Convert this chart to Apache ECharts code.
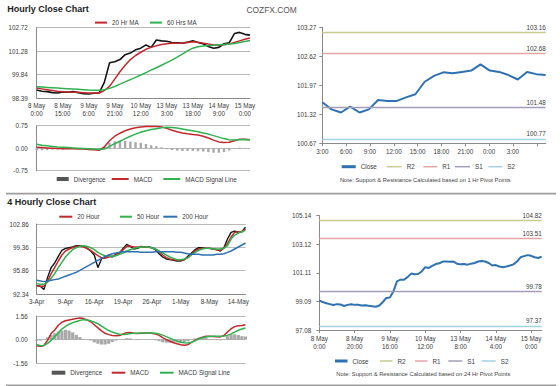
<!DOCTYPE html>
<html><head><meta charset="utf-8">
<script src="https://cdn.jsdelivr.net/npm/echarts@6/dist/echarts.min.js"></script>
<style>html,body{margin:0;padding:0;background:#fff}#c{width:560px;height:386px}</style>
</head><body><div id="c"></div>
<script>
// ---------- Hourly close chart (3-hour steps) ----------
const hrLabels = ['8 May\n0:00','8 May\n15:00','9 May\n6:00','9 May\n21:00','10 May\n12:00','13 May\n3:00','13 May\n18:00','14 May\n9:00','15 May\n0:00'];
const hrYTicks = ['98.39','99.84','101.28','102.72'];
const hrClose = [98.88,98.80,98.78,98.72,98.70,98.76,98.74,98.78,98.72,98.66,98.64,98.68,98.70,99.35,100.55,100.62,100.75,101.05,101.15,101.35,101.45,101.65,101.50,101.95,101.90,101.88,101.80,101.78,101.75,101.82,101.90,101.80,101.72,101.55,101.45,101.50,101.72,101.78,102.35,102.42,102.30,102.25];
const hrMA20 = [99.00,98.95,98.90,98.85,98.80,98.78,98.76,98.75,98.74,98.72,98.70,98.69,98.70,98.85,99.10,99.55,100.00,100.40,100.75,101.00,101.20,101.38,101.50,101.60,101.68,101.72,101.75,101.76,101.76,101.80,101.85,101.82,101.76,101.70,101.65,101.64,101.66,101.70,101.80,101.90,102.00,102.08];
const hrMA60 = [99.08,99.06,99.04,99.02,99.00,98.98,98.96,98.94,98.92,98.90,98.88,98.87,98.86,98.90,98.98,99.10,99.24,99.38,99.52,99.66,99.80,99.95,100.10,100.25,100.40,100.56,100.72,100.90,101.08,101.28,101.45,101.54,101.58,101.61,101.63,101.66,101.68,101.70,101.74,101.80,101.86,101.92];
const hrMacdTicks = ['-0.75','0.00','0.75'];
const hrMacd = [0.03,0.02,0.01,0.00,-0.01,-0.02,-0.02,-0.02,-0.03,-0.03,-0.04,-0.05,-0.07,0.04,0.25,0.40,0.50,0.58,0.64,0.68,0.71,0.72,0.72,0.72,0.71,0.66,0.60,0.55,0.51,0.48,0.46,0.44,0.40,0.34,0.27,0.21,0.19,0.20,0.25,0.30,0.30,0.28];
const hrSignal = [0.13,0.10,0.08,0.06,0.04,0.03,0.02,0.01,0.00,-0.01,-0.02,-0.03,-0.04,-0.03,0.06,0.15,0.23,0.32,0.40,0.47,0.53,0.58,0.62,0.65,0.68,0.70,0.69,0.67,0.64,0.61,0.58,0.55,0.51,0.47,0.42,0.37,0.32,0.28,0.27,0.28,0.29,0.28];
const hrDiv = [-0.08,-0.07,-0.06,-0.05,-0.04,-0.04,-0.03,-0.03,-0.03,-0.02,-0.02,-0.02,-0.03,0.05,0.18,0.23,0.25,0.24,0.22,0.20,0.18,0.14,0.10,0.07,0.03,-0.03,-0.06,-0.08,-0.09,-0.09,-0.09,-0.10,-0.11,-0.13,-0.15,-0.15,-0.13,-0.08,-0.02,0.02,0.01,0.00];

// ---------- 1 Hr pivot chart ----------
const pv1Times = ['3:00','6:00','9:00','12:00','15:00','18:00','21:00','0:00','3:00'];
const pv1YTicks = ['100.67','101.32','101.97','102.62','103.27'];
const pv1Close = [101.59,101.43,101.36,101.49,101.36,101.43,101.64,101.62,101.62,101.70,101.77,102.05,102.18,102.26,102.24,102.27,102.30,102.44,102.30,102.27,102.20,102.10,102.27,102.22,102.20];
const pvNames = ['R2','R1','S1','S2'];
const pv1Levels = [103.16,102.68,101.48,100.77];

// ---------- 4 Hourly close chart ----------
const h4Labels = ['3-Apr','9-Apr','16-Apr','19-Apr','26-Apr','1-May','8-May','14-May'];
const h4YTicks = ['92.34','95.86','99.36','102.86'];
const h4Close = [93.6,93.5,93.0,94.8,96.3,97.0,98.0,98.9,99.2,99.3,99.4,99.6,99.6,99.5,99.2,98.8,98.2,96.3,97.6,97.9,98.1,97.9,98.3,98.5,99.2,99.8,99.5,99.1,99.2,99.5,99.4,99.4,99.3,99.0,98.4,97.9,97.6,97.5,97.4,97.3,97.3,97.5,98.0,98.5,99.0,99.3,99.3,99.2,99.2,99.1,99.0,98.8,99.3,100.6,101.6,101.8,101.6,101.7,102.4];
const h4MA20 = [93.6,93.5,93.5,94.2,95.4,96.3,97.3,98.2,98.8,99.1,99.3,99.5,99.5,99.4,99.2,98.9,98.5,98.1,97.8,97.7,97.9,98.0,98.2,98.5,99.0,99.5,99.5,99.4,99.4,99.4,99.4,99.4,99.3,99.1,98.7,98.2,97.8,97.6,97.5,97.4,97.4,97.5,97.8,98.3,98.8,99.1,99.2,99.2,99.2,99.1,99.0,98.9,99.2,99.9,100.9,101.6,101.7,101.7,102.1];
const h4MA50 = [93.9,93.8,93.8,94.1,94.7,95.4,96.3,97.1,97.9,98.5,99.0,99.3,99.5,99.6,99.5,99.3,99.0,98.6,98.3,98.1,98.0,98.0,98.1,98.3,98.5,98.8,99.0,99.2,99.3,99.4,99.4,99.4,99.3,99.1,98.8,98.5,98.2,97.9,97.7,97.5,97.5,97.6,97.8,98.2,98.6,98.9,99.1,99.2,99.2,99.1,99.1,99.1,99.2,99.6,100.6,101.2,101.5,101.7,101.9];
const h4MA200 = [94.4,94.3,94.2,94.3,94.4,94.5,94.6,94.8,95.0,95.2,95.4,95.6,95.9,96.2,96.5,96.8,97.1,97.4,97.7,98.0,98.2,98.4,98.5,98.6,98.7,98.7,98.7,98.7,98.7,98.6,98.6,98.6,98.6,98.7,98.7,98.7,98.7,98.7,98.7,98.6,98.6,98.5,98.4,98.3,98.3,98.3,98.2,98.2,98.2,98.2,98.3,98.3,98.4,98.6,98.8,99.1,99.4,99.7,100.0];
const h4MacdTicks = ['-1.56','0.00','1.56'];
const h4Macd = [-0.40,-0.44,-0.38,-0.05,0.40,0.64,0.95,1.15,1.25,1.30,1.35,1.39,1.43,1.39,1.30,1.18,0.98,0.78,0.58,0.42,0.33,0.27,0.26,0.27,0.38,0.45,0.48,0.42,0.40,0.43,0.44,0.44,0.42,0.38,0.28,0.13,0.00,-0.11,-0.20,-0.27,-0.33,-0.37,-0.33,-0.18,-0.05,0.08,0.16,0.22,0.22,0.21,0.19,0.18,0.27,0.50,0.72,0.86,0.92,0.93,0.98];
const h4Signal = [-0.33,-0.38,-0.40,-0.25,-0.05,0.20,0.45,0.70,0.88,1.02,1.12,1.20,1.26,1.32,1.30,1.24,1.16,1.05,0.90,0.74,0.60,0.50,0.42,0.35,0.34,0.36,0.40,0.42,0.43,0.44,0.44,0.44,0.44,0.42,0.38,0.30,0.20,0.10,0.00,-0.10,-0.17,-0.21,-0.22,-0.17,-0.08,0.04,0.12,0.18,0.21,0.22,0.22,0.22,0.24,0.28,0.38,0.50,0.62,0.70,0.77];
const h4Div = [-0.07,-0.06,0.02,0.15,0.30,0.42,0.52,0.60,0.65,0.60,0.48,0.32,0.17,0.05,-0.02,-0.06,-0.18,-0.27,-0.32,-0.32,-0.27,-0.15,-0.06,0.00,0.04,0.09,0.08,0.00,-0.03,-0.01,0.00,0.00,-0.02,-0.04,-0.10,-0.17,-0.20,-0.21,-0.20,-0.17,-0.16,-0.16,-0.11,-0.01,0.08,0.12,0.14,0.12,0.04,-0.01,-0.03,-0.04,0.03,0.22,0.34,0.36,0.30,0.23,0.21];

// ---------- 24 Hr pivot chart (2-hour steps) ----------
const pv24Labels = ['8 May\n0:00','8 May\n20:00','9 May\n16:00','10 May\n12:00','13 May\n8:00','14 May\n4:00','15 May\n0:00'];
const pv24YTicks = ['97.08','99.09','101.11','103.12','105.14'];
const pv24Close = [99.15,99.05,98.96,98.90,98.84,98.90,98.88,98.77,98.85,98.90,98.85,98.86,98.80,98.82,98.78,98.75,98.72,98.80,99.05,99.34,99.36,99.80,100.50,100.62,100.62,100.80,101.05,101.00,101.02,101.20,101.50,101.45,101.60,101.72,101.78,101.90,101.90,101.88,101.90,101.75,101.70,101.72,101.68,101.75,101.80,101.90,101.94,101.90,101.80,101.62,101.65,101.55,101.50,101.55,101.62,101.70,101.90,102.20,102.28,102.35,102.30,102.20,102.15,102.25];
const pv24Levels = [104.82,103.51,99.78,97.37];

// ---------- styling ----------
const FONT = 'Liberation Sans';
const AX = '#8a8a8a';
const TXT = '#3c3c3c';
const GRIDC = '#b9b9b9';
const FS = 6.3;
const RED = '#c3282d', GREEN = '#2fb350', BLUE = '#2f72b3', BLACK = '#141414', DIVC = '#a9a9a9';
const PVC = ['#c6cc8f','#e7a4a4','#a59cba','#a2d3e2'];

function yAxisFrom(grid, ticks, opts) {
  const nums = ticks.map(Number);
  const min = nums[0], max = nums[nums.length - 1];
  const interval = (max - min) / (nums.length - 1);
  return {
    type: 'value', gridIndex: grid, min: min, max: max, interval: interval,
    axisLine: {show: true, lineStyle: {color: AX, width: 1}},
    axisTick: {show: !!opts.tick, length: 3, lineStyle: {color: AX}},
    splitLine: {show: !!opts.split, lineStyle: {color: GRIDC, width: 1}},
    axisLabel: {fontSize: FS, color: TXT, fontFamily: FONT, margin: opts.margin,
      formatter: function (v) { const k = Math.round((v - min) / interval); return ticks[k] !== undefined ? ticks[k] : ''; }}
  };
}
function catAxis(grid, n, labels, every, show, margin, tick) {
  const cats = Array.from({length: n}, function (_, i) { return (i % every === 0 && labels[i / every] !== undefined) ? labels[i / every] : ''; });
  return {
    type: 'category', gridIndex: grid, data: cats, boundaryGap: false,
    axisLine: {show: show, onZero: false, lineStyle: {color: AX}},
    axisTick: {show: show && tick, interval: every - 1, length: 3, lineStyle: {color: AX}},
    axisLabel: {show: show, interval: every - 1, fontSize: FS, color: TXT, fontFamily: FONT, lineHeight: 7.8, margin: margin},
    splitLine: {show: false}
  };
}
function lineS(name, data, color, width, xi, yi) {
  return {name: name, type: 'line', xAxisIndex: xi, yAxisIndex: yi, data: data, symbol: 'none',
    lineStyle: {color: color, width: width}, itemStyle: {color: color}, z: 3};
}
function barS(name, data, xi, yi, w) {
  return {name: name, type: 'bar', xAxisIndex: xi, yAxisIndex: yi, data: data, barWidth: w,
    itemStyle: {color: DIVC}, z: 2};
}
function pivotS(name, value, color, xi, yi) {
  return {name: name, type: 'line', xAxisIndex: xi, yAxisIndex: yi, data: [], symbol: 'none',
    itemStyle: {color: color}, lineStyle: {color: color},
    markLine: {symbol: ['none', 'none'], silent: true, animation: false,
      lineStyle: {color: color, width: 1.3, type: 'solid'},
      label: {show: true, position: 'insideEndTop', distance: [0, 2], formatter: value.toFixed(2),
        fontSize: FS, color: TXT, fontFamily: FONT},
      data: [{yAxis: value}]}};
}
// x: icon start, w: icon width in the reference (text follows ECharts' fixed 5px gap)
function leg(name, x, cy, w, h, color) {
  return {data: [{name: name, itemStyle: {color: color, borderWidth: 0}}],
    left: x, top: cy - 4, padding: 0, itemWidth: w - 3, itemHeight: h, icon: 'rect',
    itemStyle: {borderWidth: 0}, selectedMode: false,
    textStyle: {fontSize: FS, color: TXT, fontFamily: FONT, lineHeight: 8}};
}

const pv1Pairs = pv1Close.map(function (v, i) { return [i, v]; });
const PV1STEP = 2.56;

const series = [
  lineS('Hourly Price', hrClose, BLACK, 1.6, 0, 0),
  lineS('20 Hr MA', hrMA20, RED, 1.5, 0, 0),
  lineS('60 Hrs MA', hrMA60, GREEN, 1.5, 0, 0),
  barS('Divergence', hrDiv, 1, 1, 2.4),
  lineS('MACD', hrMacd, RED, 1.5, 1, 1),
  lineS('MACD Signal Line', hrSignal, GREEN, 1.5, 1, 1),
  lineS('Close', pv1Pairs, BLUE, 2, 2, 2)
];
pvNames.forEach(function (n, k) { series.push(pivotS(n, pv1Levels[k], PVC[k], 2, 2)); });
series.push(
  lineS('4H Price', h4Close, BLACK, 1.4, 3, 3),
  lineS('20 Hour', h4MA20, RED, 1.5, 3, 3),
  lineS('50 Hour', h4MA50, GREEN, 1.5, 3, 3),
  lineS('200 Hour', h4MA200, BLUE, 1.5, 3, 3),
  barS('Divergence', h4Div, 4, 4, 3.2),
  lineS('MACD', h4Macd, RED, 1.5, 4, 4),
  lineS('MACD Signal Line', h4Signal, GREEN, 1.5, 4, 4),
  lineS('Close', pv24Close, BLUE, 2, 5, 5)
);
pvNames.forEach(function (n, k) { series.push(pivotS(n, pv24Levels[k], PVC[k], 5, 5)); });

const option = {
  animation: false,
  backgroundColor: '#ffffff',
  textStyle: {fontFamily: FONT},
  grid: [
    {left: 36.7, top: 27.5, width: 213.3, height: 70.5},
    {left: 36.7, top: 125.7, width: 213.3, height: 45},
    {left: 322.3, top: 27.3, width: 223.4, height: 116},
    {left: 36.7, top: 224, width: 208.8, height: 70},
    {left: 36.7, top: 316, width: 208.8, height: 47.3},
    {left: 319.3, top: 215.5, width: 222.4, height: 114.5}
  ],
  xAxis: [
    catAxis(0, hrClose.length, hrLabels, 5, true, 4, false),
    catAxis(1, hrClose.length, hrLabels, 5, false, 4, false),
    {type: 'value', gridIndex: 2, min: 0, max: pv1Close.length - 1, interval: PV1STEP,
      axisLine: {show: true, onZero: false, lineStyle: {color: AX}},
      axisTick: {show: true, length: 3, lineStyle: {color: AX}},
      splitLine: {show: false},
      axisLabel: {fontSize: FS, color: TXT, fontFamily: FONT, margin: 5.5, showMaxLabel: false,
        formatter: function (v) { const k = Math.round(v / PV1STEP); return pv1Times[k] !== undefined ? pv1Times[k] : ''; }}},
    catAxis(3, h4Close.length, h4Labels, 8, true, 3.5, false),
    catAxis(4, h4Close.length, h4Labels, 8, false, 4, false),
    catAxis(5, pv24Close.length, pv24Labels, 10, true, 5, true)
  ],
  yAxis: [
    yAxisFrom(0, hrYTicks, {split: true, margin: 9}),
    yAxisFrom(1, hrMacdTicks, {split: true, margin: 9}),
    yAxisFrom(2, pv1YTicks, {split: false, tick: true, margin: 6}),
    yAxisFrom(3, h4YTicks, {split: true, margin: 8}),
    yAxisFrom(4, h4MacdTicks, {split: true, margin: 9}),
    yAxisFrom(5, pv24YTicks, {split: false, tick: true, margin: 8})
  ],
  legend: [
    leg('20 Hr MA', 95, 22.6, 15, 2, RED),
    leg('60 Hrs MA', 150, 22.6, 15, 2, GREEN),
    leg('Divergence', 56.7, 179, 15, 4, '#555555'),
    leg('MACD', 111.7, 179, 20, 2, RED),
    leg('MACD Signal Line', 163.3, 179, 20, 2, GREEN),
    leg('Close', 341.7, 166.7, 17, 3, BLUE),
    leg('R2', 386.7, 166.7, 18, 1.5, PVC[0]),
    leg('R1', 423.3, 166.7, 17, 1.5, PVC[1]),
    leg('S1', 455, 166.7, 18, 1.5, PVC[2]),
    leg('S2', 488.3, 166.7, 17, 1.5, PVC[3]),
    leg('20 Hour', 59.3, 216.7, 16, 2, RED),
    leg('50 Hour', 120, 216.7, 15, 2, GREEN),
    leg('200 Hour', 163.3, 216.7, 17, 2, BLUE),
    leg('Divergence', 51.7, 372.7, 16.6, 4, '#555555'),
    leg('MACD', 111.7, 372.7, 16.6, 2, RED),
    leg('MACD Signal Line', 160, 372.7, 16.6, 2, GREEN),
    leg('Close', 335, 361, 15.5, 3, BLUE),
    leg('R2', 380, 361, 15.5, 1.5, PVC[0]),
    leg('R1', 415, 361, 15.5, 1.5, PVC[1]),
    leg('S1', 448.3, 361, 17, 1.5, PVC[2]),
    leg('S2', 481.7, 361, 17, 1.5, PVC[3])
  ],
  graphic: [
    {type: 'text', left: 7.3, top: 4.5, style: {text: 'Hourly Close Chart', font: 'bold 9px "Liberation Sans"', fill: '#222'}},
    {type: 'text', left: 246.5, top: 5.5, style: {text: 'COZFX.COM', font: '8.4px "Liberation Sans"', fill: '#555'}},
    {type: 'text', left: 7.3, top: 197, style: {text: '4 Hourly Close Chart', font: 'bold 9px "Liberation Sans"', fill: '#222'}},
    {type: 'text', x: 425.3, y: 180, style: {text: 'Note: Support & Resistance Calculated based on 1 Hr Pivot Points', font: '5.8px "Liberation Sans"', fill: '#444', align: 'center', verticalAlign: 'middle'}},
    {type: 'text', x: 423.3, y: 374, style: {text: 'Note: Support & Resistance Calculated based on 24 Hr Pivot Points', font: '5.8px "Liberation Sans"', fill: '#444', align: 'center', verticalAlign: 'middle'}},
    {type: 'line', shape: {x1: 6, y1: 193.6, x2: 556, y2: 193.6}, style: {stroke: '#9d9d9d', lineWidth: 1.6}},
    {type: 'line', shape: {x1: 6, y1: 385.2, x2: 556, y2: 385.2}, style: {stroke: '#9d9d9d', lineWidth: 1.6}}
  ],
  series: series
};

const chart = echarts.init(document.getElementById('c'), null, {renderer: 'svg'});
chart.setOption(option);
</script></body></html>
